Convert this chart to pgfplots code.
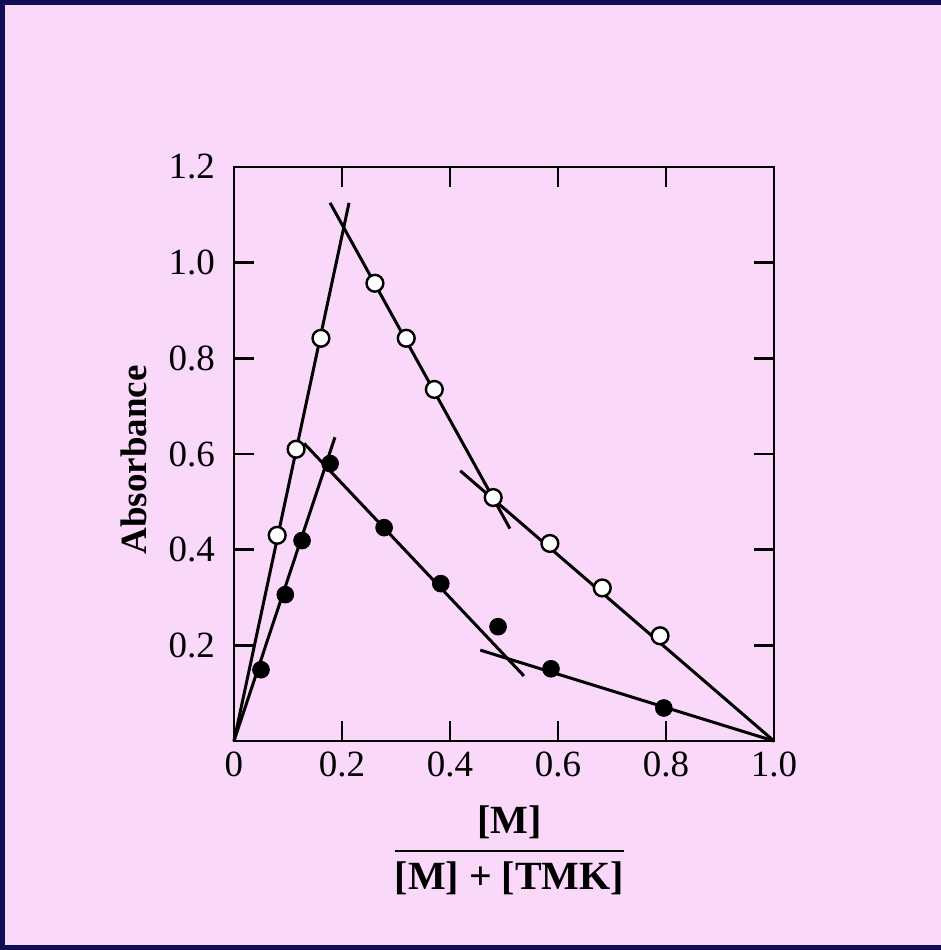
\documentclass[border=0pt]{standalone}
\usepackage{amsmath}
\usepackage{pgfplots}
\pgfplotsset{compat=1.18}
\usepackage{fontspec}
\setmainfont{Liberation Serif}
\definecolor{bgpink}{RGB}{249,216,249}
\definecolor{frameblue}{RGB}{18,12,85}
\begin{document}
\begin{tikzpicture}
% page background and frame (941 x 950 px at 0.5pt/px)
\fill[bgpink] (-117pt,-104.5pt) rectangle (353.5pt,370.5pt);
\fill[frameblue] (-117pt,368pt) rectangle (353.5pt,370.5pt);
\fill[frameblue] (-117pt,-104.5pt) rectangle (-114.5pt,370.5pt);
\fill[frameblue] (-117pt,-104.5pt) rectangle (353.5pt,-102pt);
\begin{axis}[
  at={(0,0)}, anchor=south west,
  scale only axis, width=270pt, height=287pt,
  xmin=0, xmax=1, ymin=0, ymax=1.2,
  xtick={0,0.2,0.4,0.6,0.8,1.0},
  xticklabels={0,0.2,0.4,0.6,0.8,1.0},
  ytick={0.2,0.4,0.6,0.8,1.0,1.2},
  yticklabels={0.2,0.4,0.6,0.8,1.0,1.2},
  tick align=inside, major tick length=10pt,
  axis line style={line width=1.3pt, black},
  tick style={line width=1.3pt, black},
  ticklabel style={font=\fontsize{18.5}{21}\selectfont},
  yticklabel style={xshift=-6pt},
  xticklabel style={yshift=-2pt},
  every axis y label/.style={at={(axis description cs:-0.185,0.49)}, rotate=90, anchor=center},
  every axis x label/.style={at={(axis description cs:0.51,-0.19)}, anchor=center},
  ylabel={\fontsize{18.5}{21}\selectfont\textbf{Absorbance}},
  xlabel={\fontsize{20}{24}\selectfont$\genfrac{}{}{1.2pt}{0}{\textbf{[M]}}{\textbf{[M] + [TMK]}}$},
  clip=false,
]
% fitted lines, open-circle series
\addplot[black, line width=1.5pt] coordinates {(0,0) (0.213,1.125)};
\addplot[black, line width=1.5pt] coordinates {(0.178,1.125) (0.511,0.444)};
\addplot[black, line width=1.5pt] coordinates {(0.419,0.565) (1.0,0.0)};
% fitted lines, filled-circle series
\addplot[black, line width=1.5pt] coordinates {(0,0) (0.187,0.635)};
\addplot[black, line width=1.5pt] coordinates {(0.13,0.622) (0.537,0.136)};
\addplot[black, line width=1.5pt] coordinates {(0.456,0.19) (1.0,0.0)};
% open circles
\addplot[only marks, mark=*, mark size=4.2pt, mark options={fill=white, draw=black, line width=1.2pt}] coordinates {
  (0.08,0.43) (0.115,0.61) (0.161,0.842) (0.261,0.957) (0.319,0.842)
  (0.371,0.735) (0.48,0.509) (0.585,0.413) (0.682,0.32) (0.789,0.22)};
% filled circles
\addplot[only marks, mark=*, mark size=4.2pt, mark options={fill=black, draw=black}] coordinates {
  (0.05,0.149) (0.095,0.306) (0.126,0.419) (0.178,0.58) (0.278,0.446)
  (0.383,0.329) (0.489,0.239) (0.587,0.151) (0.796,0.069)};
\end{axis}
\end{tikzpicture}
\end{document}
